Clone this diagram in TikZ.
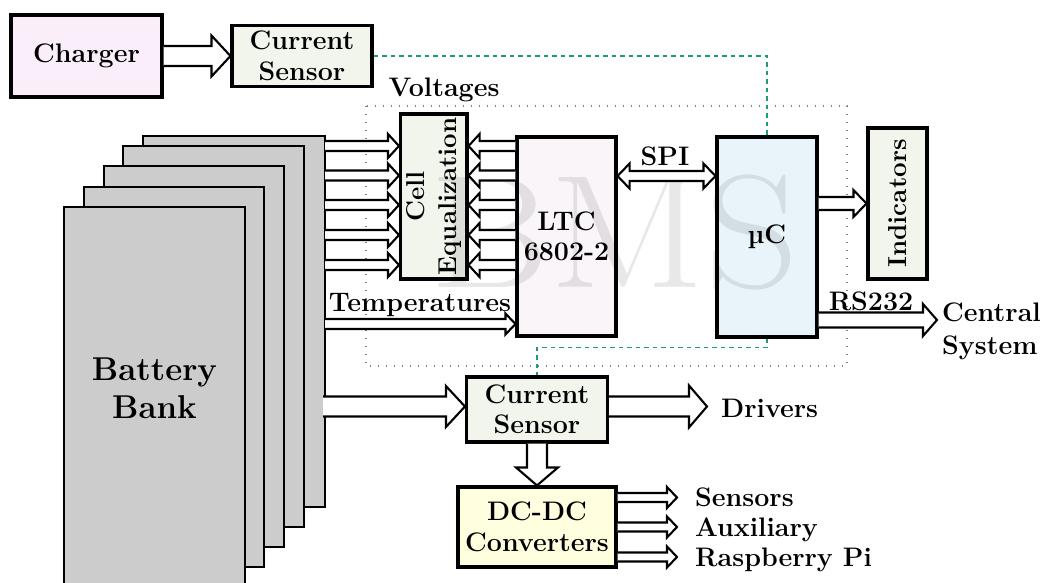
\documentclass[tikz,border=0pt]{standalone}
\usepackage{graphicx}
\usetikzlibrary{calc}
\definecolor{chg}{RGB}{251,238,251}
\definecolor{sens}{RGB}{241,245,236}
\definecolor{ltcc}{RGB}{250,245,248}
\definecolor{ucc}{RGB}{232,243,250}
\definecolor{dcc}{RGB}{255,255,224}
\definecolor{batt}{RGB}{204,204,204}
\definecolor{sigc}{RGB}{27,158,119}
\newcommand\fatarrow[5]{%
  \path let \p1=(#1), \p2=(#2), \n1={atan2(\y2-\y1,\x2-\x1)}, \n2={veclen(\x2-\x1,\y2-\y1)} in \pgfextra{\xdef\faang{\n1}\xdef\falen{\n2}};
  \begin{scope}[shift={(#1)}, rotate=\faang]
    \draw[arw] (0,#3) -- ({\falen-#5},#3) -- ({\falen-#5},#4) -- (\falen,0) -- ({\falen-#5},-#4) -- ({\falen-#5},-#3) -- (0,-#3);
  \end{scope}}
\newcommand\dfatarrow[5]{%
  \path let \p1=(#1), \p2=(#2), \n1={atan2(\y2-\y1,\x2-\x1)}, \n2={veclen(\x2-\x1,\y2-\y1)} in \pgfextra{\xdef\faang{\n1}\xdef\falen{\n2}};
  \begin{scope}[shift={(#1)}, rotate=\faang]
    \draw[arw] (#5,#3) -- ({\falen-#5},#3) -- ({\falen-#5},#4) -- (\falen,0) -- ({\falen-#5},-#4) -- ({\falen-#5},-#3) -- (#5,-#3) -- (#5,-#4) -- (0,0) -- (#5,#4) -- cycle;
  \end{scope}}
\begin{document}
\begin{tikzpicture}[x=1pt,y=-1pt,
  every node/.style={font=\fontsize{26.8}{30.5}\selectfont\bfseries, inner sep=0pt},
  blk/.style={draw, line width=3.1pt, align=center},
  batbox/.style={draw, line width=2.9pt, fill=batt},
  arw/.style={draw, fill=white, line width=2.1pt, line join=miter},
  sig/.style={draw=sigc, line width=1.4pt, dash pattern=on 4.5pt off 4pt},
  dotbox/.style={draw=gray, line width=1.2pt, dash pattern=on 1.2pt off 6.8pt}]
\useasboundingbox (0,0) rectangle (1042,583);
\clip (0,0) rectangle (1042,583);
% battery bank
\node[batbox, minimum width=182pt, minimum height=371pt] (bat1) at (234,321.5) {};
\node[batbox, minimum width=181pt, minimum height=381pt] (bat2) at (213.5,336.5) {};
\node[batbox, minimum width=180pt, minimum height=381pt] (bat3) at (194,356.5) {};
\node[batbox, minimum width=180pt, minimum height=380pt] (bat4) at (174,377) {};
\node[batbox, minimum width=181pt, minimum height=413pt] (bat5) at (154.5,413.5) {};
\node[font=\fontsize{33}{38}\selectfont\bfseries, align=center] (bank) at (154.5,388) {Battery\\Bank};
% dotted BMS box
\draw[dotbox] (366,106) rectangle (847,366);
% boxes
\node[blk, fill=chg, minimum width=151pt, minimum height=82pt] (charger) at (86.5,56) {Charger};
\node[blk, fill=sens, minimum width=140pt, minimum height=61pt] (cs1) at (302,56) {Current\\Sensor};
\node[blk, fill=sens, minimum width=66.5pt, minimum height=165pt] (ce) at (433.75,196.5) {};
\node[rotate=90, align=center, font=\fontsize{25.8}{32.5}\selectfont\bfseries] (cetext) at (ce.center) {Cell\\Equalization};
\node[blk, fill=ltcc, minimum width=99pt, minimum height=199pt] (ltc) at (566.5,236.5) {LTC\\6802-2};
\node[blk, fill=ucc, minimum width=100pt, minimum height=200pt] (uc) at (767,237) {µC};
\node[blk, fill=sens, minimum width=59pt, minimum height=151pt] (ind) at (897.5,203.5) {};
\node[rotate=90, font=\fontsize{26}{30}\selectfont\bfseries] (indtext) at (ind.center) {Indicators};
\node[blk, fill=sens, minimum width=141pt, minimum height=65pt] (cs2) at (537,409.5) {Current\\Sensor};
\node[blk, fill=dcc, minimum width=158pt, minimum height=80pt] (dc) at (537,527) {DC-DC\\Converters};
% signal lines
\draw[sig] (cs1.east) -| (uc.north);
\draw[sig] (uc.south) -- ++(0,9) -| (cs2.north);
% watermark
\node[font=\fontsize{161}{161}\selectfont\mdseries, text=black, text opacity=0.09, anchor=base] (wm) at (614,287) {\scalebox{1.14}[1]{BMS}};
% arrow end points
\coordinate (r1) at (325,146);
\coordinate (r2) at (325,175.5);
\coordinate (r3) at (325,205);
\coordinate (r4) at (325,235);
\coordinate (r5) at (325,265);
\coordinate (tp) at (325,324);
\coordinate (spi) at (0,176);
\coordinate (rs) at (937,320);
\coordinate (b2) at (323,406.5);
\coordinate (drv) at (707,406.5);
\coordinate (o1) at (677,497.5);
\coordinate (o2) at (677,527);
\coordinate (o3) at (677,557);
% arrows
\foreach \r in {r1,r2,r3,r4,r5} {
  \fatarrow{\r}{ce.west |- \r}{5}{12}{11}
  \fatarrow{ltc.west |- \r}{ce.east |- \r}{5}{12}{11}
}
\fatarrow{charger.east}{cs1.west}{10}{20.5}{19}
\fatarrow{tp}{ltc.west |- tp}{5}{10.5}{10}
\dfatarrow{ltc.east |- spi}{uc.west |- spi}{5}{12.5}{12}
\fatarrow{uc.east |- ind}{ind.west}{6.5}{13.5}{13}
\fatarrow{uc.east |- rs}{rs}{7.5}{16}{14}
\fatarrow{b2}{cs2.west |- b2}{10}{20.5}{19}
\fatarrow{cs2.east |- b2}{drv}{10}{21}{18}
\fatarrow{cs2.south}{dc.north}{10}{21}{18}
\foreach \o in {o1,o2,o3} {\fatarrow{dc.east |- \o}{\o}{4.5}{10.5}{10}}
% labels
\node[anchor=base] (volt) at (444,97) {Voltages};
\node[anchor=base] (templ) at (420,311) {Temperatures};
\node[anchor=base] (spil) at (665,166) {SPI};
\node[anchor=base] (rsl) at (871,310) {RS232};
\node[anchor=west, align=left, font=\fontsize{26.8}{33}\selectfont\bfseries] (central) at (942,331) {Central\\System};
\node[anchor=base west] (drivers) at (721,417) {Drivers};
\node[anchor=base west] (sensl) at (695,506.5) {Sensors};
\node[anchor=base west] (auxl) at (695,536) {Auxiliary};
\node[anchor=base west] (rpil) at (695,566) {Raspberry Pi};
\end{tikzpicture}
\end{document}
